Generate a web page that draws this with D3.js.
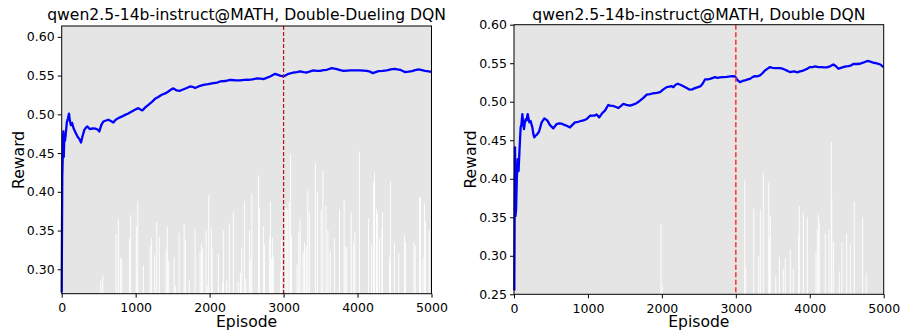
<!DOCTYPE html>
<html>
<head>
<meta charset="utf-8">
<script src="https://cdn.jsdelivr.net/npm/d3@7"></script>
<style>
  body { margin: 0; background: #fff; }
  text { font-family: "DejaVu Sans", sans-serif; }
</style>
</head>
<body>
<div id="chart"></div>
<script>
// smoothed reward curves: [episode, reward]
const ddqnCurve = [
  [0, 0.27], [4, 0.35], [8, 0.42], [13, 0.44], [18, 0.465], [22, 0.478], [28, 0.445],
  [35, 0.47], [45, 0.466], [55, 0.475], [70, 0.49], [85, 0.495], [99, 0.501], [110, 0.492],
  [125, 0.486], [140, 0.489], [160, 0.482], [185, 0.477], [215, 0.471], [240, 0.468],
  [261, 0.4636], [280, 0.471], [306, 0.48], [330, 0.483], [347, 0.4843], [380, 0.481],
  [420, 0.482], [460, 0.4815], [490, 0.48], [509, 0.4778], [535, 0.486], [563, 0.4907],
  [600, 0.492], [631, 0.493], [670, 0.491], [698, 0.4894], [730, 0.493], [766, 0.4951],
  [810, 0.497], [857, 0.4993], [900, 0.501], [947, 0.5036], [990, 0.506], [1036, 0.508],
  [1065, 0.506], [1091, 0.505], [1130, 0.509], [1172, 0.5122], [1220, 0.516], [1262, 0.520],
  [1300, 0.522], [1353, 0.5252], [1400, 0.527], [1442, 0.5295], [1480, 0.532], [1510, 0.5335],
  [1550, 0.531], [1600, 0.5304], [1640, 0.532], [1690, 0.534], [1736, 0.536], [1770, 0.5355],
  [1803, 0.5339], [1850, 0.536], [1916, 0.538], [1980, 0.539], [2051, 0.5403], [2100, 0.541],
  [2142, 0.5424], [2210, 0.543], [2277, 0.5446], [2340, 0.544], [2412, 0.5437], [2470, 0.5445],
  [2525, 0.5446], [2580, 0.545], [2638, 0.5463], [2690, 0.546], [2728, 0.5455], [2770, 0.547],
  [2818, 0.5489], [2886, 0.5523], [2925, 0.551], [2953, 0.550], [2998, 0.5489], [3030, 0.5505],
  [3066, 0.5523], [3134, 0.554], [3180, 0.5545], [3224, 0.5553], [3270, 0.5545], [3314, 0.554],
  [3360, 0.5555], [3404, 0.5566], [3450, 0.556], [3494, 0.5562], [3540, 0.557], [3585, 0.5575],
  [3652, 0.5597], [3720, 0.5584], [3765, 0.557], [3810, 0.5562], [3860, 0.5565], [3900, 0.5566],
  [3970, 0.5568], [4035, 0.5566], [4080, 0.5565], [4125, 0.5562], [4170, 0.555], [4206, 0.5532],
  [4245, 0.5545], [4283, 0.5558], [4340, 0.556], [4396, 0.5566], [4450, 0.558], [4499, 0.5588],
  [4540, 0.558], [4576, 0.5575], [4610, 0.556], [4644, 0.5545], [4690, 0.555], [4735, 0.5558],
  [4780, 0.557], [4824, 0.5579], [4870, 0.557], [4914, 0.5562], [4960, 0.5555], [4996, 0.5549]
];

const doubleCurve = [
  [0, 0.255], [4, 0.2556], [9, 0.36], [14, 0.4406], [20, 0.3513], [28, 0.36], [38, 0.40],
  [50, 0.4253], [62, 0.41], [77, 0.4427], [90, 0.4667], [100, 0.47], [113, 0.484], [125, 0.47],
  [135, 0.4645], [145, 0.472], [158, 0.4775], [170, 0.476], [185, 0.484], [197, 0.478],
  [207, 0.4732], [225, 0.475], [248, 0.4667], [262, 0.458], [275, 0.4537], [292, 0.456],
  [307, 0.457], [338, 0.461], [374, 0.4732], [410, 0.4784], [450, 0.4758], [487, 0.4697],
  [532, 0.4654], [577, 0.471], [610, 0.472], [645, 0.4715], [680, 0.470], [712, 0.4688],
  [757, 0.4667], [790, 0.470], [825, 0.4732], [870, 0.474], [915, 0.4753], [950, 0.476],
  [982, 0.4775], [1028, 0.4818], [1060, 0.482], [1090, 0.482], [1117, 0.4835], [1153, 0.4797],
  [1194, 0.4853], [1230, 0.4884], [1275, 0.4958], [1298, 0.4949], [1342, 0.4945],
  [1389, 0.4928], [1410, 0.4919], [1440, 0.494], [1479, 0.4971], [1520, 0.496], [1569, 0.4949],
  [1600, 0.496], [1637, 0.4971], [1670, 0.499], [1704, 0.5014], [1750, 0.505], [1795, 0.5093],
  [1840, 0.510], [1884, 0.511], [1930, 0.5115], [1975, 0.5124], [2020, 0.516], [2065, 0.5189],
  [2100, 0.5195], [2133, 0.5202], [2155, 0.5189], [2185, 0.522], [2214, 0.5233], [2250, 0.522],
  [2290, 0.5202], [2330, 0.518], [2371, 0.5158], [2410, 0.516], [2448, 0.5176], [2490, 0.519],
  [2525, 0.5202], [2555, 0.524], [2583, 0.5289], [2620, 0.529], [2651, 0.5297], [2690, 0.531],
  [2718, 0.532], [2750, 0.531], [2786, 0.5315], [2830, 0.532], [2877, 0.5324], [2920, 0.533],
  [2958, 0.5332], [2989, 0.533], [3020, 0.5285], [3056, 0.5254], [3090, 0.527], [3124, 0.5276],
  [3160, 0.529], [3191, 0.5297], [3225, 0.532], [3259, 0.5332], [3290, 0.533], [3327, 0.5341],
  [3360, 0.537], [3394, 0.5406], [3430, 0.543], [3462, 0.545], [3495, 0.544], [3530, 0.5437],
  [3565, 0.5435], [3597, 0.5437], [3630, 0.543], [3665, 0.5415], [3700, 0.540], [3733, 0.5385],
  [3765, 0.539], [3800, 0.5393], [3830, 0.538], [3868, 0.5393], [3900, 0.540], [3936, 0.5415],
  [3970, 0.543], [4003, 0.545], [4040, 0.545], [4071, 0.5458], [4115, 0.545], [4161, 0.545],
  [4195, 0.5445], [4229, 0.5445], [4275, 0.546], [4319, 0.5484], [4355, 0.546], [4387, 0.5428],
  [4420, 0.544], [4454, 0.545], [4490, 0.546], [4522, 0.5463], [4555, 0.547], [4589, 0.549],
  [4635, 0.549], [4680, 0.5493], [4730, 0.551], [4779, 0.5529], [4820, 0.552], [4860, 0.5506],
  [4895, 0.550], [4928, 0.5493], [4960, 0.548], [4995, 0.545]
];

// per-episode reward spikes drawn as white bars: [episode, reward]
const ddqnBars = [
  [528, 0.285], [555, 0.292], [735, 0.346], [766, 0.364], [793, 0.315], [812, 0.313],
  [915, 0.339], [933, 0.370], [1009, 0.356], [1028, 0.388], [1104, 0.305], [1195, 0.330],
  [1212, 0.341], [1258, 0.319], [1285, 0.361], [1320, 0.342], [1411, 0.326], [1429, 0.355],
  [1447, 0.311], [1519, 0.315], [1537, 0.279], [1587, 0.347], [1655, 0.359], [1672, 0.338],
  [1726, 0.286], [1803, 0.352], [1871, 0.323], [1889, 0.333], [1907, 0.327], [1952, 0.350],
  [1966, 0.279], [1989, 0.396], [2024, 0.354], [2033, 0.326], [2119, 0.320], [2173, 0.284],
  [2186, 0.350], [2232, 0.285], [2267, 0.359], [2321, 0.374], [2385, 0.284], [2416, 0.296],
  [2435, 0.328], [2470, 0.388], [2489, 0.288], [2538, 0.351], [2556, 0.315], [2570, 0.398],
  [2660, 0.421], [2674, 0.380], [2727, 0.356], [2741, 0.332], [2808, 0.341], [2822, 0.387],
  [2835, 0.314], [2849, 0.341], [2862, 0.316], [2958, 0.297], [2971, 0.338], [3030, 0.379],
  [3048, 0.378], [3075, 0.387], [3093, 0.449], [3107, 0.343], [3183, 0.306], [3205, 0.349],
  [3224, 0.365], [3265, 0.322], [3283, 0.334], [3306, 0.329], [3327, 0.401], [3349, 0.373],
  [3431, 0.437], [3458, 0.400], [3508, 0.376], [3531, 0.428], [3572, 0.382], [3599, 0.351],
  [3631, 0.323], [3688, 0.340], [3756, 0.377], [3819, 0.390], [3833, 0.329], [3856, 0.329],
  [3914, 0.374], [3947, 0.334], [3965, 0.348], [4026, 0.452], [4148, 0.366], [4189, 0.332],
  [4216, 0.413], [4229, 0.425], [4256, 0.378], [4270, 0.373], [4297, 0.340], [4329, 0.353],
  [4337, 0.374], [4431, 0.316], [4445, 0.414], [4499, 0.334], [4558, 0.321], [4634, 0.344],
  [4648, 0.335], [4762, 0.335], [4780, 0.330], [4838, 0.394], [4851, 0.393], [4884, 0.316],
  [4905, 0.385], [4919, 0.362], [4969, 0.351]
];

const doubleBars = [
  [1988, 0.341], [2005, 0.262], [3120, 0.398], [3134, 0.285], [3242, 0.361], [3309, 0.300],
  [3332, 0.360], [3372, 0.4075], [3445, 0.395], [3454, 0.323], [3467, 0.351], [3540, 0.273],
  [3589, 0.298], [3643, 0.283], [3670, 0.297], [3737, 0.308], [3778, 0.283], [3849, 0.327],
  [3858, 0.365], [3913, 0.356], [3967, 0.350], [4084, 0.3035], [4102, 0.334], [4116, 0.3535],
  [4129, 0.343], [4210, 0.329], [4260, 0.334], [4292, 0.448], [4297, 0.377], [4319, 0.318],
  [4400, 0.2795], [4436, 0.318], [4499, 0.329], [4548, 0.316], [4602, 0.3705], [4715, 0.3505],
  [4764, 0.2774]
];

const ddqnTicks = [0.30, 0.35, 0.40, 0.45, 0.50, 0.55, 0.60];
const doubleTicks = [0.25, 0.30, 0.35, 0.40, 0.45, 0.50, 0.55, 0.60];
const episodeTicks = [0, 1000, 2000, 3000, 4000, 5000];
const switchEpisode = 3000;

const svg = d3.select('#chart').append('svg')
  .attr('width', 901)
  .attr('height', 331);

function drawPanel(opts) {
  const { left, right, top, bottom, yDomain, yTicks, curve, bars, title, vColor, vWidth, vDash } = opts;

  const x = d3.scaleLinear().domain([0, 5000]).range([left, right]);
  const y = d3.scaleLinear().domain(yDomain).range([bottom, top]);

  const g = svg.append('g');

  g.append('rect')
    .attr('x', left)
    .attr('y', top)
    .attr('width', right - left)
    .attr('height', bottom - top)
    .attr('fill', '#e5e5e5');

  g.append('g')
    .selectAll('line')
    .data(bars)
    .enter()
    .append('line')
    .attr('x1', d => x(d[0]))
    .attr('x2', d => x(d[0]))
    .attr('y1', bottom)
    .attr('y2', d => y(d[1]))
    .attr('stroke', '#fff')
    .attr('stroke-width', 1.1)
    .attr('opacity', 0.9);

  const line = d3.line()
    .x(d => x(d[0]))
    .y(d => y(d[1]));

  g.append('path')
    .datum(curve)
    .attr('d', line)
    .attr('fill', 'none')
    .attr('stroke', '#0000ff')
    .attr('stroke-width', 2.3)
    .attr('stroke-linejoin', 'round');

  g.append('line')
    .attr('x1', x(switchEpisode))
    .attr('x2', x(switchEpisode))
    .attr('y1', top)
    .attr('y2', bottom)
    .attr('stroke', vColor)
    .attr('stroke-width', vWidth)
    .attr('stroke-dasharray', vDash);

  g.append('rect')
    .attr('x', left)
    .attr('y', top)
    .attr('width', right - left)
    .attr('height', bottom - top)
    .attr('fill', 'none')
    .attr('stroke', '#000')
    .attr('stroke-width', 1);

  const xAxis = g.append('g')
    .attr('transform', `translate(0,${bottom})`)
    .call(d3.axisBottom(x).tickValues(episodeTicks).tickFormat(d3.format('d')).tickSizeOuter(0).tickSize(4));
  xAxis.select('.domain').remove();
  xAxis.selectAll('text').attr('font-size', 12.5).attr('dy', '0.9em').attr('fill', '#000');

  const yAxis = g.append('g')
    .attr('transform', `translate(${left},0)`)
    .call(d3.axisLeft(y).tickValues(yTicks).tickFormat(d3.format('.2f')).tickSizeOuter(0).tickSize(4));
  yAxis.select('.domain').remove();
  yAxis.selectAll('text').attr('font-size', 12.5).attr('fill', '#000');

  g.append('text')
    .attr('x', (left + right) / 2)
    .attr('y', 20)
    .attr('text-anchor', 'middle')
    .attr('font-size', 15.6)
    .text(title);

  g.append('text')
    .attr('x', (left + right) / 2)
    .attr('y', 327)
    .attr('text-anchor', 'middle')
    .attr('font-size', 15.6)
    .text('Episode');

  g.append('text')
    .attr('transform', `translate(${left - 38},${(top + bottom) / 2}) rotate(-90)`)
    .attr('text-anchor', 'middle')
    .attr('font-size', 15.6)
    .text('Reward');
}

drawPanel({
  left: 61.7, right: 431.5, top: 26, bottom: 293.7,
  yDomain: [0.2685, 0.614], yTicks: ddqnTicks,
  curve: ddqnCurve, bars: ddqnBars,
  title: 'qwen2.5-14b-instruct@MATH, Double-Dueling DQN',
  vColor: '#c01010', vWidth: 1.2, vDash: '4,2'
});

drawPanel({
  left: 514, right: 883.7, top: 24.7, bottom: 294.3,
  yDomain: [0.25, 0.60], yTicks: doubleTicks,
  curve: doubleCurve, bars: doubleBars,
  title: 'qwen2.5-14b-instruct@MATH, Double DQN',
  vColor: '#ff3030', vWidth: 1.5, vDash: '5,2.5'
});
</script>
</body>
</html>
